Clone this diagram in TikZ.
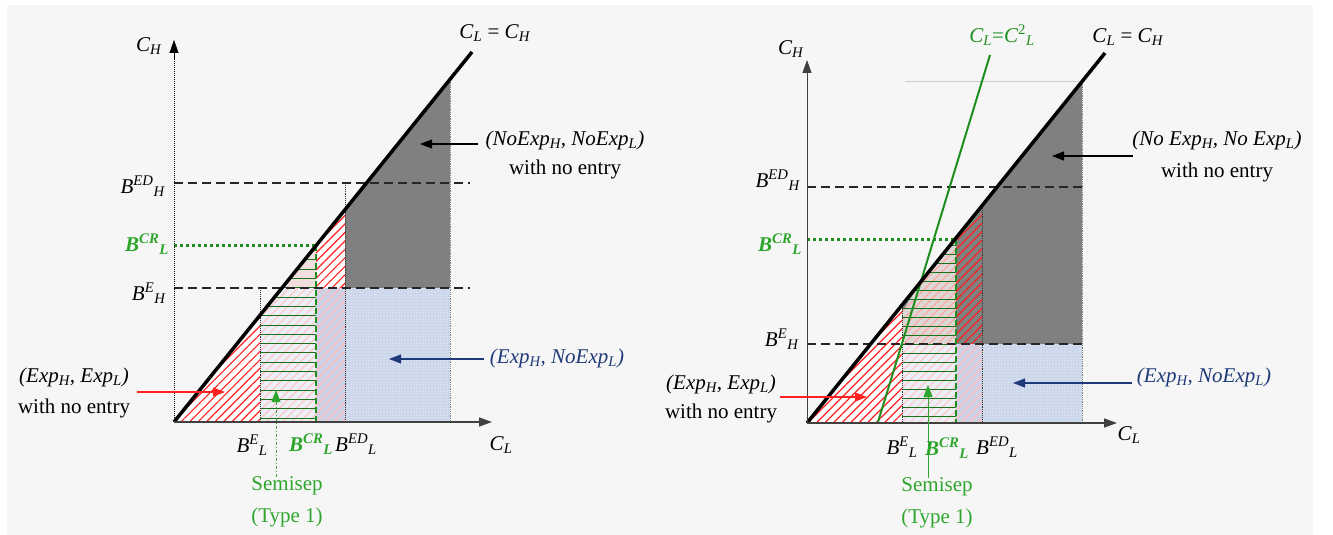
\documentclass[tikz,border=0pt]{standalone}
\usepackage{amsmath}
\usepackage{fontspec}
\setmainfont{Liberation Serif}
\usetikzlibrary{patterns.meta,arrows.meta}
\definecolor{bgc}{HTML}{F6F6F6}
\definecolor{grn}{HTML}{1E8F1E}
\definecolor{lgrn}{HTML}{2EA62E}
\definecolor{navy}{HTML}{1F3A78}
\definecolor{dgrey}{HTML}{808080}
\definecolor{lgrey}{HTML}{DCD8D6}
\definecolor{bluefill}{HTML}{C9D5E9}
\definecolor{lav}{HTML}{CDD2E6}
\definecolor{pale}{HTML}{ECEFF6}
\definecolor{pinkbg}{HTML}{F2DEDC}
\definecolor{hred}{HTML}{FF2020}
\newcommand{\ms}[2]{\textit{#1}\textsubscript{\textit{#2}}}
\newcommand{\Bsym}[2]{\textit{B}\textsuperscript{\textit{#1}}\textsubscript{\textit{#2}}}
\newcommand{\Bcr}{\textbf{\textit{B}\textsuperscript{\textit{CR}}\textsubscript{\textit{L}}}}
\begin{document}
\begin{tikzpicture}[x=1pt,y=-1pt,
  lab/.style={font=\fontsize{21}{25}\selectfont,inner sep=0pt},
  glab/.style={lab,text=lgrn},
  hatch/.style={pattern={Lines[angle=45,distance=6pt,line width=1.2pt]},pattern color=#1},
  dots/.style={pattern={Dots[distance=3pt,radius=0.55pt]},pattern color=white},
  dashline/.style={black!85,line width=1.4pt,dash pattern=on 9pt off 5pt},
  vdot/.style={black!80,line width=0.9pt,densely dotted},
  gdot/.style={grn,line width=3pt,dash pattern=on 3pt off 3pt},
  gdash/.style={grn,line width=2pt,dash pattern=on 6pt off 3pt},
  hline/.style={grn!80!black,line width=1pt},
  diag/.style={black,line width=3.5pt},
  axis/.style={black!75,line width=1.6pt,-{Triangle[length=13pt,width=9pt]}},
  arr/.style={line width=1.2pt,-{Triangle[length=12pt,width=9pt]}}
]
\useasboundingbox (0,0) rectangle (1333,535);
\fill[bgc] (7,5) rectangle (1313,535);

% ================= LEFT PANEL =================
\fill[white] (174,422) -- (260,315.4) -- (260,422) -- cycle;
\fill[hatch=hred] (174,422) -- (260,315.4) -- (260,422) -- cycle;
\fill[pale] (260,422) -- (260,315.4) -- (282.1,288) -- (316,288) -- (316,422) -- cycle;
\fill[hatch=hred!25] (260,422) -- (260,315.4) -- (282.1,288) -- (316,288) -- (316,422) -- cycle;
\fill[pinkbg] (282.1,288) -- (316,245.9) -- (316,288) -- cycle;
\fill[white] (316,288) -- (316,245.9) -- (345,210) -- (345,288) -- cycle;
\fill[hatch=hred] (316,288) -- (316,245.9) -- (345,210) -- (345,288) -- cycle;
\fill[lav] (316,288) rectangle (345,422);
\fill[hatch=hred!30] (316,288) rectangle (345,422);
\fill[dgrey] (345,288) -- (345,210) -- (450,79.8) -- (450,288) -- cycle;
\fill[bluefill] (345,288) rectangle (450,422);
\fill[dots] (345,288) rectangle (450,422);
\begin{scope}
  \clip (260,422) -- (260,315.4) -- (316,245.9) -- (316,422) -- cycle;
  \foreach \k in {0,...,18} \draw[hline] (260,{418.3-9.33*\k}) -- (316,{418.3-9.33*\k});
\end{scope}
\draw[dashline] (174,183) -- (470,183);
\draw[dashline] (174,288) -- (470,288);
\draw[gdot] (174,245) -- (316,245);
\draw[vdot] (260,288) -- (260,422);
\draw[vdot] (345,183) -- (345,422);
\draw[black!50,line width=0.8pt,densely dotted] (450,79.8) -- (450,422);
\draw[gdash] (316,245) -- (316,422);
\draw[diag] (174,422) -- (472,52);
\draw[black,line width=1pt,densely dotted] (174,422) -- (174,44);
\draw[black,-{Triangle[length=13pt,width=9pt]}] (174,60) -- (174,40);
\draw[axis] (174,422) -- (492,422);

\node[lab] (CHl) at (149,46) {\ms{C}{H}};
\node[lab] (CLl) at (501,445) {\ms{C}{L}};
\node[lab] (CLCHl) at (495,33) {\ms{C}{L} = \ms{C}{H}};
\node[lab] (BEDHl) at (143,186) {\Bsym{ED}{H}};
\node[glab] (BCRLl) at (147,244) {\Bcr};
\node[lab] (BEHl) at (149,293) {\Bsym{E}{H}};
\node[lab] (BELl) at (252,445) {\Bsym{E}{L}};
\node[glab] (BCRLxl) at (311,444) {\Bcr};
\node[lab] (BEDLl) at (356,444) {\Bsym{ED}{L}};
\node[lab] (NNl) at (565,140) {\textit{(NoExp\textsubscript{H}, NoExp\textsubscript{L})}};
\node[lab] (NNl2) at (565,169) {with no entry};
\node[lab,text=navy] (ENl) at (557,358) {\textit{(Exp\textsubscript{H}, NoExp\textsubscript{L})}};
\node[lab] (EEl) at (74,377) {\textit{(Exp\textsubscript{H}, Exp\textsubscript{L})}};
\node[lab] (EEl2) at (74,408) {with no entry};
\node[glab] (SSl) at (287,486) {Semisep};
\node[glab] (SSl2) at (287,517) {(Type 1)};

\coordinate (a1s) at (478,144); \coordinate (a1e) at (420,144);
\coordinate (a2s) at (484,359); \coordinate (a2e) at (389,359);
\coordinate (a3s) at (137,392); \coordinate (a3e) at (225,392);
\coordinate (a4e) at (276,390);
\draw[arr,black] (a1s) -- (a1e);
\draw[arr,navy] (a2s) -- (a2e);
\draw[arr,hred] (a3s) -- (a3e);
\draw[arr,lgrn,line width=1pt,dash dot] (SSl.north -| a4e) -- (a4e);

% ================= RIGHT PANEL =================
\fill[white] (807,423) -- (902,305.2) -- (902,423) -- cycle;
\fill[hatch=hred] (807,423) -- (902,305.2) -- (902,423) -- cycle;
\fill[lgrey] (902,344) -- (902,305.2) -- (956,238.2) -- (956,344) -- cycle;
\fill[dgrey] (902,305.2) -- (921.5,281) -- (902,312) -- cycle;
\fill[hatch=hred!40] (902,344) -- (902,305.2) -- (956,238.2) -- (956,344) -- cycle;
\fill[dgrey] (956,344) -- (956,238.2) -- (982,206) -- (982,344) -- cycle;
\fill[hatch=hred] (956,344) -- (956,238.2) -- (982,206) -- (982,344) -- cycle;
\fill[dgrey] (982,344) -- (982,206) -- (1082,82) -- (1082,344) -- cycle;
\fill[pale] (902,344) rectangle (956,423);
\fill[hatch=hred!25] (902,344) rectangle (956,423);
\fill[lav] (956,344) rectangle (982,423);
\fill[hatch=hred!30] (956,344) rectangle (982,423);
\fill[bluefill] (982,344) rectangle (1082,423);
\fill[dots] (982,344) rectangle (1082,423);
\begin{scope}
  \clip (902,423) -- (902,305.2) -- (956,238.2) -- (956,423) -- cycle;
  \foreach \k in {0,...,20} \draw[hline] (902,{416-9*\k}) -- (956,{416-9*\k});
\end{scope}
\draw[black!20,line width=1pt] (905,81) -- (1082,81);
\draw[dashline] (807,187) -- (1082,187);
\draw[dashline] (807,344) -- (1082,344);
\draw[gdot] (807,239) -- (956,239);
\draw[vdot] (902,305) -- (902,423);
\draw[vdot] (982,206) -- (982,423);
\draw[black!50,line width=0.8pt,densely dotted] (1082,82) -- (1082,423);
\draw[gdash] (956,239) -- (956,423);
\draw[grn,line width=2pt] (877.7,423) -- (990,55);
\draw[diag] (807,423) -- (1105,53);
\draw[axis,line width=1pt] (807,423) -- (807,60);
\draw[axis] (807,423) -- (1117,423);

\node[lab] (CHr) at (791,49) {\ms{C}{H}};
\node[lab] (CLr) at (1129,435) {\ms{C}{L}};
\node[lab] (CLCHr) at (1128,37) {\ms{C}{L} = \ms{C}{H}};
\node[glab,text=grn] (C2r) at (1002,35) {\ms{C}{L}=\textit{C}\textsuperscript{2}\textsubscript{\textit{L}}};
\node[lab] (BEDHr) at (778,180) {\Bsym{ED}{H}};
\node[glab] (BCRLr) at (780,244) {\Bcr};
\node[lab] (BEHr) at (782,339) {\Bsym{E}{H}};
\node[lab] (BELr) at (902,447) {\Bsym{E}{L}};
\node[glab] (BCRLxr) at (947,448) {\Bcr};
\node[lab] (BEDLr) at (997,447) {\Bsym{ED}{L}};
\node[lab] (NNr) at (1217,140) {\textit{(No Exp\textsubscript{H}, No Exp\textsubscript{L})}};
\node[lab] (NNr2) at (1217,172) {with no entry};
\node[lab,text=navy] (ENr) at (1204,377) {\textit{(Exp\textsubscript{H}, NoExp\textsubscript{L})}};
\node[lab] (EEr) at (721,384) {\textit{(Exp\textsubscript{H}, Exp\textsubscript{L})}};
\node[lab] (EEr2) at (721,413) {with no entry};
\node[glab] (SSr) at (937,487) {Semisep};
\node[glab] (SSr2) at (937,518) {(Type 1)};

\coordinate (b1s) at (1133,156); \coordinate (b1e) at (1052,156);
\coordinate (b2s) at (1132,383); \coordinate (b2e) at (1013,383);
\coordinate (b3s) at (780,397); \coordinate (b3e) at (867,397);
\coordinate (b4e) at (928,385);
\draw[arr,black] (b1s) -- (b1e);
\draw[arr,navy] (b2s) -- (b2e);
\draw[arr,hred] (b3s) -- (b3e);
\draw[arr,lgrn,line width=1pt] (SSr.north -| b4e) -- (b4e);
\end{tikzpicture}
\end{document}
